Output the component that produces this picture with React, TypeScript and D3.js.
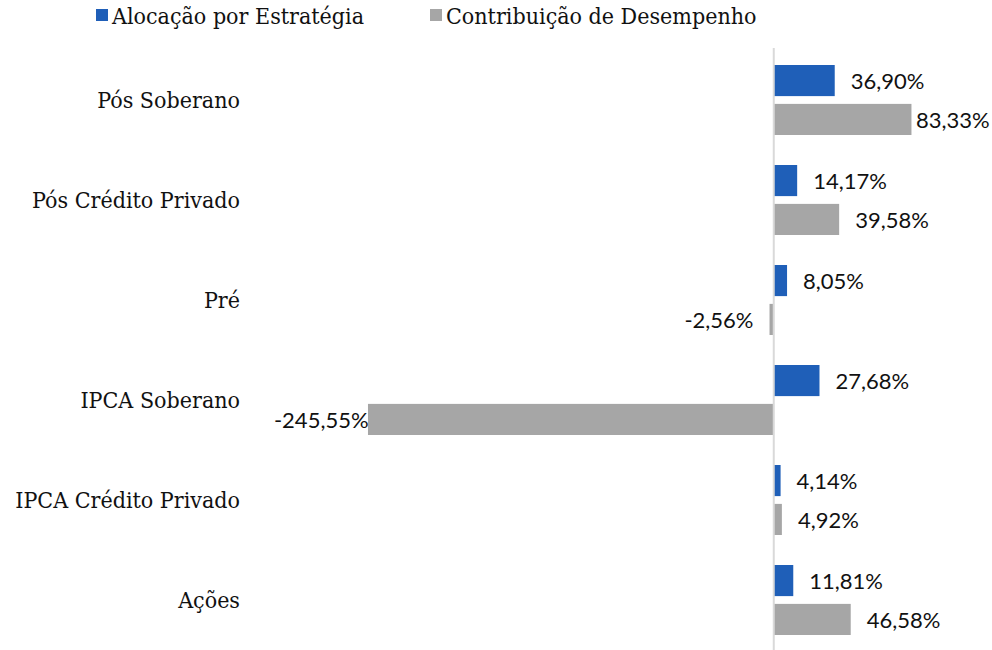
import React from 'react';
import * as d3 from 'd3';

const categories = ['Pós Soberano', 'Pós Crédito Privado', 'Pré', 'IPCA Soberano', 'IPCA Crédito Privado', 'Ações'];
const alocacao = [36.90, 14.17, 8.05, 27.68, 4.14, 11.81];
const contribuicao = [83.33, 39.58, -2.56, -245.55, 4.92, 46.58];
const seriesNames = ['Alocação por Estratégia', 'Contribuição de Desempenho'];
const seriesColors = ['#1f5fb8', '#a6a6a6'];

const width = 992;
const height = 650;
const plotLeft = 270;
const plotRight = 990;

const slabFont = '"DejaVu Serif Condensed", "DejaVu Serif", serif';
const valueFont = 'Lato, "Open Sans", sans-serif';

const ptBR = d3.formatLocale({ decimal: ',', thousands: '.', grouping: [3], currency: ['R$', ''], minus: '-' });
const fmt = (v: number) => ptBR.format('.2f')(v) + '%';

export default function App() {
  const x = d3.scaleLinear().domain([-300, 100]).range([278, 939]);
  const y = d3.scaleBand().domain(categories).range([50, 650]).paddingInner(0.3).paddingOuter(0.15);
  const sub = d3.scaleBand().domain(['0', '1']).range([0, y.bandwidth()]).paddingInner(0.2);

  const rows = categories.map((c, i) => ({ cat: c, values: [alocacao[i], contribuicao[i]] }));
  const gap = 16;
  const fontSize = 22;
  // rough text width for Lato digits, used to keep labels inside the chart
  const textW = (s: string) => s.length * fontSize * 0.56;

  return (
    <svg width={width} height={height} style={{ position: 'absolute', left: 0, top: 0, background: '#fff' }}>
      {/* legend */}
      <g fontFamily={slabFont} fontSize={23}>
        <rect x={96} y={9} width={12} height={12} fill={seriesColors[0]} />
        <text x={112} y={16} dominantBaseline="central" fill="#111">{seriesNames[0]}</text>
        <rect x={430} y={9} width={12} height={12} fill={seriesColors[1]} />
        <text x={446} y={16} dominantBaseline="central" fill="#111">{seriesNames[1]}</text>
      </g>

      {/* category labels */}
      <g fontFamily={slabFont} fontSize={23} textAnchor="end" fill="#111">
        {categories.map(c => (
          <text key={c} x={240} y={(y(c) ?? 0) + y.bandwidth() / 2} dominantBaseline="central">{c}</text>
        ))}
      </g>

      {/* bars */}
      {rows.map(r => (
        <g key={r.cat} transform={`translate(0, ${y(r.cat)})`}>
          {r.values.map((v, j) => {
            const x0 = x(Math.min(0, v));
            const w = Math.abs(x(v) - x(0));
            return (
              <rect key={j} x={x0} y={sub(String(j))} width={w} height={sub.bandwidth()} fill={seriesColors[j]} />
            );
          })}
        </g>
      ))}

      {/* axis line */}
      <line x1={x(0)} x2={x(0)} y1={48} y2={height} stroke="#d9d9d9" strokeWidth={2} />

      {/* value labels */}
      <g fontFamily={valueFont} fontSize={fontSize} fill="#111">
        {rows.map(r => r.values.map((v, j) => {
          const label = fmt(v);
          const cy = (y(r.cat) ?? 0) + (sub(String(j)) ?? 0) + sub.bandwidth() / 2;
          let lx: number;
          let anchor: 'start' | 'end';
          if (v >= 0) {
            lx = Math.min(x(v) + gap, plotRight - textW(label));
            anchor = 'start';
          } else {
            lx = Math.max(x(v) - gap, plotLeft + textW(label));
            anchor = 'end';
          }
          return (
            <text key={r.cat + j} x={lx} y={cy} textAnchor={anchor} dominantBaseline="central">{label}</text>
          );
        }))}
      </g>
    </svg>
  );
}
